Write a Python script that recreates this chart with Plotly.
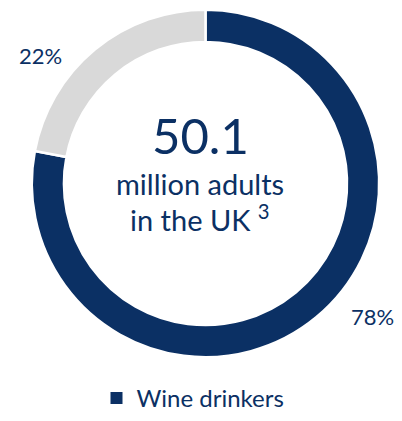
import plotly.graph_objects as go

labels = ["Wine drinkers", "Non wine drinkers"]
values = [78, 22]
colors = ["#0B3064", "#D9D9D9"]
center_value = "50.1"
center_text = ["million adults", "in the UK <sup>3</sup>"]

W, H = 402, 421
FONT = "Lato, 'Open Sans', sans-serif"
NAVY = "#0B3064"

fig = go.Figure()
fig.add_trace(go.Pie(
    labels=labels, values=values, hole=0.815, sort=False, direction="clockwise",
    rotation=0, marker=dict(colors=colors, line=dict(width=2.5, color="white")),
    textinfo="none",
    showlegend=False, hoverinfo="skip",
    domain=dict(x=[28/W, 383/W], y=[1-365/H, 1-10/H]),
))
# legend entry only for the wine drinkers
fig.add_trace(go.Scatter(
    x=[None], y=[None], mode="markers", name=labels[0],
    marker=dict(symbol="square", size=10, color=colors[0]),
))

# percentage labels outside the ring (layout positions in pixels)
label_pos = [(372, 323), (40, 57)]
for v, (px, py) in zip(values, label_pos):
    fig.add_annotation(x=px/W, y=1-py/H, xref="paper", yref="paper", text=f"{v}%",
                       showarrow=False, xanchor="center", yanchor="middle",
                       font=dict(family=FONT, size=22, color=NAVY))

cx = 200/W
fig.add_annotation(x=cx, y=1-138/H, xref="paper", yref="paper", text=center_value,
                   showarrow=False, xanchor="center", yanchor="middle",
                   font=dict(family=FONT, size=49, color=NAVY))
fig.add_annotation(x=cx, y=1-188/H, xref="paper", yref="paper", text=center_text[0],
                   showarrow=False, xanchor="center", yanchor="middle",
                   font=dict(family=FONT, size=29, color=NAVY))
fig.add_annotation(x=cx, y=1-223/H, xref="paper", yref="paper", text=center_text[1],
                   showarrow=False, xanchor="center", yanchor="middle",
                   font=dict(family=FONT, size=29, color=NAVY))
fig.update_layout(
    width=W, height=H, margin=dict(l=0, r=0, t=0, b=0),
    paper_bgcolor="white", plot_bgcolor="white",
    xaxis=dict(visible=False), yaxis=dict(visible=False),
    showlegend=True,
    legend=dict(orientation="h", x=193/W, xanchor="center", y=1-407/H, yanchor="middle",
                font=dict(family=FONT, size=24, color=NAVY), itemsizing="constant"),
)
fig.write_html("out.html")
